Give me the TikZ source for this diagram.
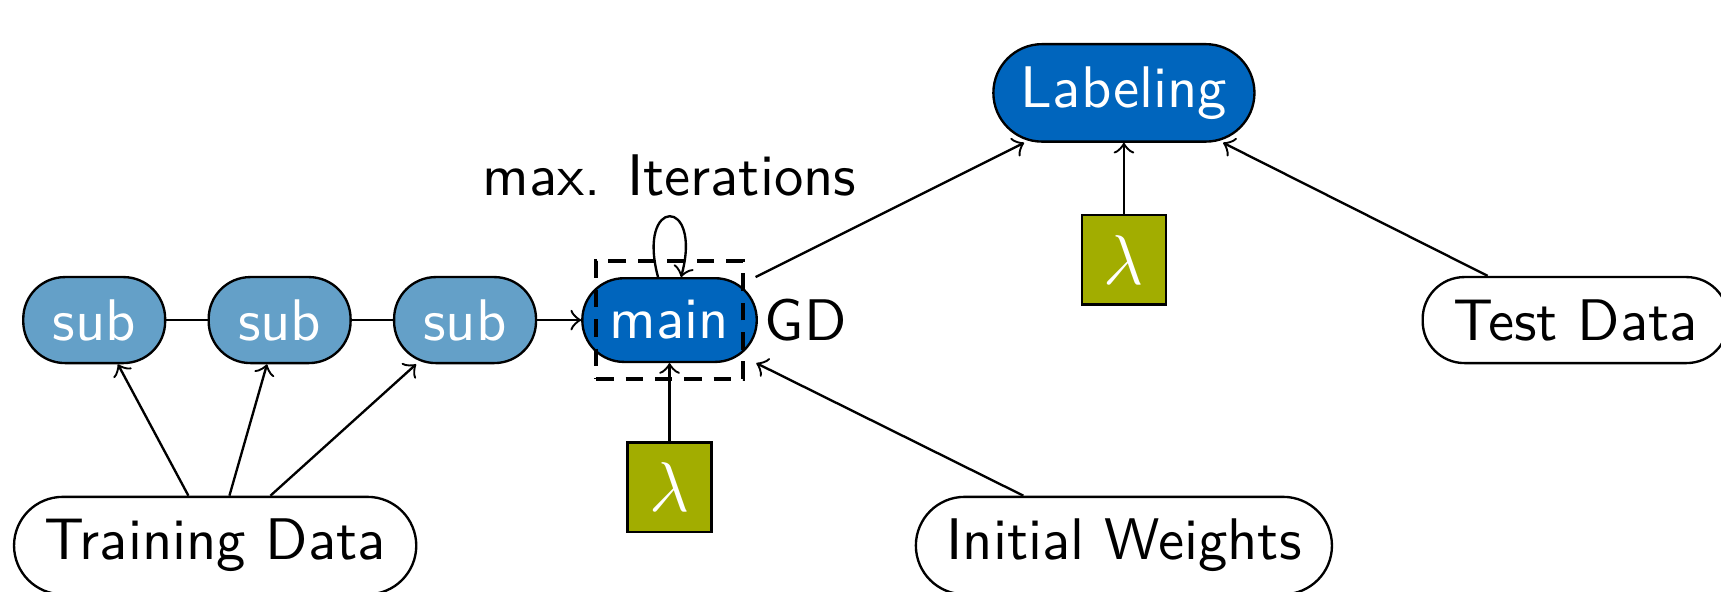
\documentclass[tikz,border=0pt]{standalone}
\usepackage{amsmath}
\usepackage{tikz}
\usetikzlibrary{arrows,shapes,positioning}
\usepackage{xcolor}
\definecolor{tumblue}{RGB}{0,101,189}
\definecolor{tumlightblue}{RGB}{100,160,200}
\definecolor{tumgreen}{RGB}{162,173,0}
\tikzstyle{subnode} = [rectangle, rounded corners=7.1pt, inner xsep=5pt, inner ysep=3.8pt, text=white, draw=black, fill=tumlightblue]
\tikzstyle{gdnode} = [rectangle, rounded corners=7.1pt, inner xsep=4.7pt, inner ysep=3.8pt, text=white, draw=black, fill=tumblue]
\tikzstyle{datanode} = [rectangle, rounded corners=8.3pt, inner xsep=5.2pt, inner ysep=3.8pt, draw=black, fill=white]
\tikzstyle{lambdabox} = [rectangle, minimum width=14.3pt, minimum height=15.2pt, text=white, font=\large, draw=black, fill=tumgreen]
\tikzstyle{iterbox} = [rectangle, minimum width=25pt, minimum height=20.1pt, draw=black, thick, densely dashed]
\tikzstyle{arrow} = [->]

\begin{document}
\begin{tikzpicture}[node distance=2.72cm, font=\sffamily]
\useasboundingbox (-4.008,-1.622) rectangle (6.294,1.916);
% Gradient descent block
\node (main) [gdnode] {main};
\node (gdbox) [iterbox] at (main) {};
\node (gd) [anchor=west, inner sep=1pt] at (main.east) {GD};
\node (sub3) [subnode, left of=main, node distance=1.224cm] {sub};
\node (sub2) [subnode, left of=sub3, node distance=1.11cm] {sub};
\node (sub1) [subnode, left of=sub2, node distance=1.11cm] {sub};

% Inputs
\node (training) [datanode, left of=main, yshift=-1.35cm] {Training Data};
\node (weights) [datanode, right of=main, yshift=-1.35cm] {Initial Weights};
\node (lambdagd) [lambdabox, below of=main, node distance=1cm] {$\lambda$};

% Labeling
\node (labeling) [gdnode, right of=main, yshift=1.36cm, rounded corners=8.3pt] {Labeling};
\node (lambdalab) [lambdabox, below of=labeling, node distance=1cm] {$\lambda$};
\node (test) [datanode, right of=main, node distance=5.423cm, rounded corners=7.1pt] {Test Data};

% Arrows
\draw (sub1) -- (sub2);
\draw (sub2) -- (sub3);
\draw[arrow] (sub3) -- (main);
\draw[arrow] (training) -- (sub1);
\draw[arrow] (training) -- (sub2);
\draw[arrow] (training) -- (sub3);
\draw[arrow] (lambdagd) -- (main);
\draw[arrow] (weights) -- (main);
\draw[arrow] (main) to[loop above] node[above] {max. Iterations} (main);
\draw[arrow] (main) -- (labeling);
\draw[arrow] (lambdalab) -- (labeling);
\draw[arrow] (test) -- (labeling);
\end{tikzpicture}
\end{document}
